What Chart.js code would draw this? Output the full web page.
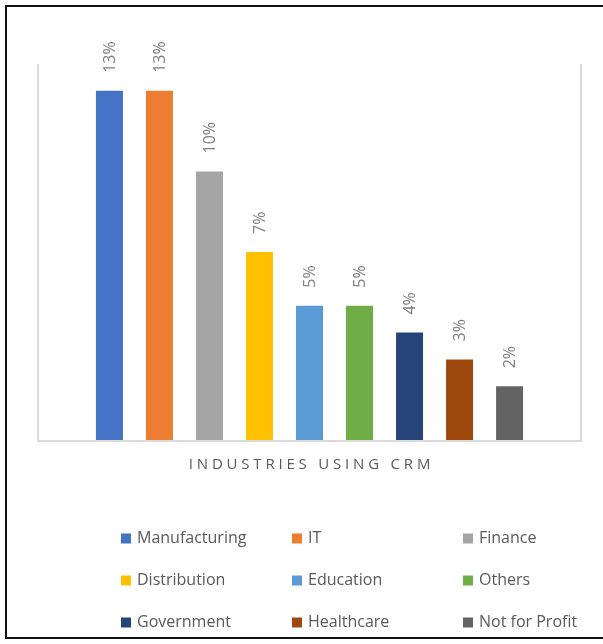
<!DOCTYPE html>
<html>
<head>
<meta charset="utf-8">
<title>Industries using CRM</title>
<script src="https://cdn.jsdelivr.net/npm/chart.js@4.4.0/dist/chart.umd.min.js"></script>
<style>
  html, body { margin: 0; padding: 0; background: #fff; }
  #wrap { width: 603px; height: 644px; }
</style>
</head>
<body>
<div id="wrap"><canvas id="myChart" width="603" height="644"></canvas></div>
<script>
// data ////////////////////////
const categories = ['INDUSTRIES USING CRM'];
const industries = ['Manufacturing', 'IT', 'Finance', 'Distribution', 'Education', 'Others', 'Government', 'Healthcare', 'Not for Profit'];
const percents   = [13, 13, 10, 7, 5, 5, 4, 3, 2];

const colors = ['#4472C4', '#ED7D31', '#A5A5A5', '#FFC000', '#5B9BD5', '#70AD47', '#264478', '#9E480E', '#636363'];

// one series per industry, like the excel chart
const datasets = industries.map(function(name, i) {
  return {
    label: name,
    data: [percents[i]],
    backgroundColor: colors[i],
    categoryPercentage: 0.829,
    barPercentage: 0.54
  };
});

// outer black frame + grey plot lines
const framePlugin = {
  id: 'frame',
  beforeDraw(chart) {
    const ctx = chart.ctx;
    ctx.save();
    ctx.fillStyle = '#fff';
    ctx.fillRect(0, 0, chart.width, chart.height);
    ctx.strokeStyle = '#111';
    ctx.lineWidth = 2;
    ctx.strokeRect(6, 6, chart.width + 10, chart.height - 12);
    ctx.restore();
  },
  afterDatasetsDraw(chart) {
    const a = chart.chartArea;
    const ctx = chart.ctx;
    ctx.save();
    ctx.strokeStyle = '#d9d9d9';
    ctx.lineWidth = 2;
    ctx.beginPath();
    ctx.moveTo(a.left, a.top);
    ctx.lineTo(a.left, a.bottom + 1);
    ctx.lineTo(a.right, a.bottom + 1);
    ctx.lineTo(a.right, a.top);
    ctx.stroke();
    ctx.restore();
  }
};

// rotated value labels + category label
const labelPlugin = {
  id: 'labels',
  afterDatasetsDraw(chart) {
    const ctx = chart.ctx;
    ctx.save();
    ctx.font = '16px "Open Sans"';
    ctx.fillStyle = '#7f7f7f';
    ctx.textAlign = 'left';
    ctx.textBaseline = 'middle';
    chart.data.datasets.forEach(function(ds, i) {
      const bar = chart.getDatasetMeta(i).data[0];
      ctx.save();
      ctx.translate(bar.x + 1, bar.y - 18);
      ctx.rotate(-Math.PI / 2);
      ctx.fillText(ds.data[0] + '%', 0, 0);
      ctx.restore();
    });

    const x = chart.scales.x;
    ctx.font = '15px "Open Sans"';
    ctx.fillStyle = '#595959';
    ctx.textAlign = 'center';
    ctx.letterSpacing = '3.8px';
    chart.data.labels.forEach(function(l, i) {
      ctx.fillText(l, x.getPixelForValue(i) + 2, chart.chartArea.bottom + 25);
    });
    ctx.restore();
  }
};

// legend 3 x 3
const legendPlugin = {
  id: 'gridLegend',
  afterDraw(chart) {
    const ctx = chart.ctx;
    ctx.save();
    ctx.font = '16px "Open Sans"';
    ctx.textBaseline = 'middle';
    ctx.textAlign = 'left';
    chart.data.datasets.forEach(function(ds, i) {
      const cx = 121 + (i % 3) * 171;
      const cy = 538.5 + Math.floor(i / 3) * 42;
      ctx.fillStyle = ds.backgroundColor;
      ctx.fillRect(cx, cy - 5, 10, 10);
      ctx.fillStyle = '#595959';
      ctx.fillText(ds.label, cx + 16, cy);
    });
    ctx.restore();
  }
};

var ctx = document.getElementById('myChart').getContext('2d');
var myChart = new Chart(ctx, {
  type: 'bar',
  data: {
    labels: categories,
    datasets: datasets
  },
  options: {
    responsive: false,
    animation: false,
    layout: { padding: { left: 38, right: 22, top: 64, bottom: 204 } },
    scales: {
      x: { display: false },
      y: { display: false, min: 0, max: 14 }
    },
    plugins: {
      legend: { display: false },
      tooltip: { enabled: false }
    }
  },
  plugins: [framePlugin, labelPlugin, legendPlugin]
});
</script>
</body>
</html>
